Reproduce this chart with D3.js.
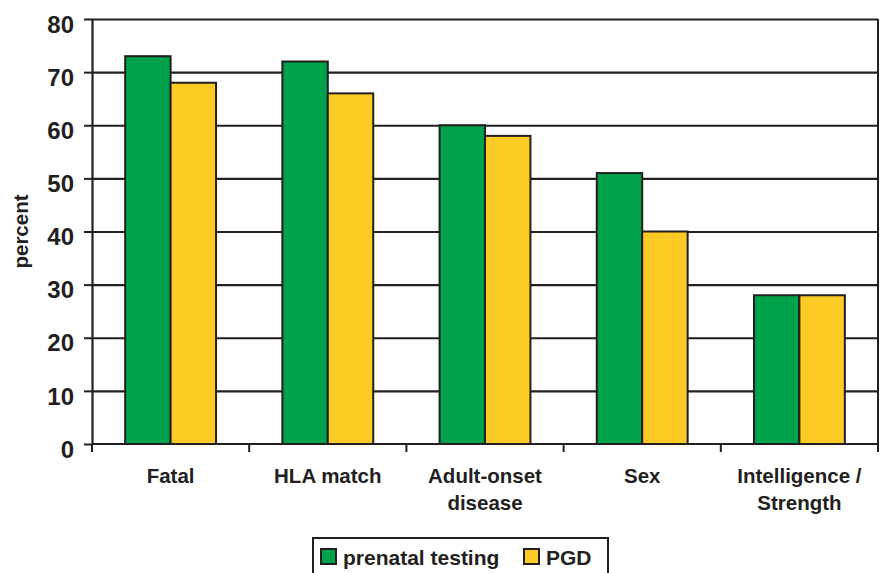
<!DOCTYPE html>
<html>
<head>
<meta charset="utf-8">
<script src="https://cdn.jsdelivr.net/npm/d3@7"></script>
<style>
  body { margin: 0; background: #fff; }
  text { font-family: "Liberation Sans", Arial, sans-serif; font-weight: bold; fill: #231f20; }
</style>
</head>
<body>
<svg id="chart"></svg>
<script>
// data
const categories = ["Fatal", "HLA match", "Adult-onset disease", "Sex", "Intelligence / Strength"];
const labelLines = [["Fatal"], ["HLA match"], ["Adult-onset", "disease"], ["Sex"], ["Intelligence /", "Strength"]];
const seriesNames = ["prenatal testing", "PGD"];
const prenatalValues = [73, 72, 60, 51, 28];
const pgdValues = [68, 66, 58, 40, 28];
const yTicks = [0, 10, 20, 30, 40, 50, 60, 70, 80];

const ink = "#231f20";
const colors = {"prenatal testing": "#00a14b", "PGD": "#fccb26"};

var width = 882, height = 573;
var margin = {top: 19, right: 4, bottom: 129, left: 92};

const svg = d3.select("#chart")
  .attr("width", width)
  .attr("height", height);

const x = d3.scaleBand()
  .domain(categories)
  .range([margin.left, width - margin.right])
  .paddingInner(0)
  .paddingOuter(0);

const xSub = d3.scaleBand()
  .domain(seriesNames)
  .range([0, x.bandwidth()])
  .paddingInner(0)
  .paddingOuter(0.73);

const y = d3.scaleLinear()
  .domain([0, 80])
  .range([height - margin.bottom, margin.top]);

const plotRight = width - margin.right;
const plotW = plotRight - margin.left;

// horizontal grid lines
svg.append("g")
  .attr("transform", "translate(" + margin.left + ",0)")
  .call(d3.axisLeft(y).tickValues(yTicks.filter(d => d > 0)).tickSize(-plotW).tickFormat(""))
  .call(g => g.select(".domain").remove())
  .selectAll(".tick line")
  .attr("stroke", ink)
  .attr("stroke-width", 2.2);

// right border
svg.append("line")
  .attr("x1", plotRight).attr("x2", plotRight)
  .attr("y1", y(80)).attr("y2", y(0))
  .attr("stroke", ink).attr("stroke-width", 2);

// bars
const rows = categories.map((c, i) => ({
  cat: c,
  values: [
    {series: "prenatal testing", value: prenatalValues[i]},
    {series: "PGD", value: pgdValues[i]}
  ]
}));

svg.append("g")
  .selectAll("g")
  .data(rows)
  .join("g")
  .attr("transform", d => "translate(" + x(d.cat) + ",0)")
  .selectAll("rect")
  .data(d => d.values)
  .join("rect")
  .attr("x", d => xSub(d.series))
  .attr("y", d => y(d.value))
  .attr("width", xSub.bandwidth())
  .attr("height", d => y(0) - y(d.value))
  .attr("fill", d => colors[d.series])
  .attr("stroke", ink)
  .attr("stroke-width", 2);

// y axis
const yAxis = svg.append("g")
  .attr("transform", "translate(" + margin.left + ",0)")
  .call(d3.axisLeft(y).tickValues(yTicks).tickSize(8).tickPadding(10).tickSizeOuter(0));
yAxis.select(".domain").attr("stroke", ink).attr("stroke-width", 2.2);
yAxis.selectAll(".tick line").attr("stroke", ink).attr("stroke-width", 2);
yAxis.selectAll(".tick text")
  .attr("dy", "0.55em")
  .style("font-size", "24px")
  .style("font-family", "'Liberation Sans', Arial, sans-serif")
  .style("font-weight", "bold")
  .attr("fill", ink);

// x axis line + category boundary ticks
svg.append("line")
  .attr("x1", margin.left).attr("x2", plotRight)
  .attr("y1", y(0)).attr("y2", y(0))
  .attr("stroke", ink).attr("stroke-width", 2.2);

const bounds = categories.map(c => x(c)).concat([x(categories[categories.length - 1]) + x.bandwidth()]);
svg.append("g")
  .selectAll("line")
  .data(bounds)
  .join("line")
  .attr("x1", d => d).attr("x2", d => d)
  .attr("y1", y(0)).attr("y2", y(0) + 8)
  .attr("stroke", ink).attr("stroke-width", 2);

// category labels (multi-line)
const catLabels = svg.append("g")
  .selectAll("text")
  .data(categories)
  .join("text")
  .attr("text-anchor", "middle")
  .attr("x", d => x(d) + x.bandwidth() / 2)
  .attr("y", y(0) + 39)
  .style("font-size", "20.5px");

catLabels.selectAll("tspan")
  .data((d, i) => labelLines[i])
  .join("tspan")
  .attr("x", function() { return this.parentNode.getAttribute("x"); })
  .attr("dy", (d, i) => i === 0 ? 0 : 27)
  .text(d => d);

// y label
svg.append("text")
  .attr("transform", "translate(28," + (y(0) + y(80)) / 2 + ") rotate(-90)")
  .attr("text-anchor", "middle")
  .style("font-size", "20.5px")
  .text("percent");

// legend
const legend = svg.append("g").attr("transform", "translate(313,538)");
legend.append("rect")
  .attr("x", 0).attr("y", 0)
  .attr("width", 295).attr("height", 60)
  .attr("fill", "#fff")
  .attr("stroke", ink).attr("stroke-width", 2);

const legendX = [8, 211];
const items = legend.selectAll("g.item")
  .data(seriesNames)
  .join("g")
  .attr("class", "item")
  .attr("transform", (d, i) => "translate(" + legendX[i] + ",11)");
items.append("rect")
  .attr("width", 15).attr("height", 15)
  .attr("fill", d => colors[d])
  .attr("stroke", ink).attr("stroke-width", 2);
items.append("text")
  .attr("x", 22)
  .attr("y", 15.5)
  .style("font-size", "21px")
  .text(d => d);
</script>
</body>
</html>
